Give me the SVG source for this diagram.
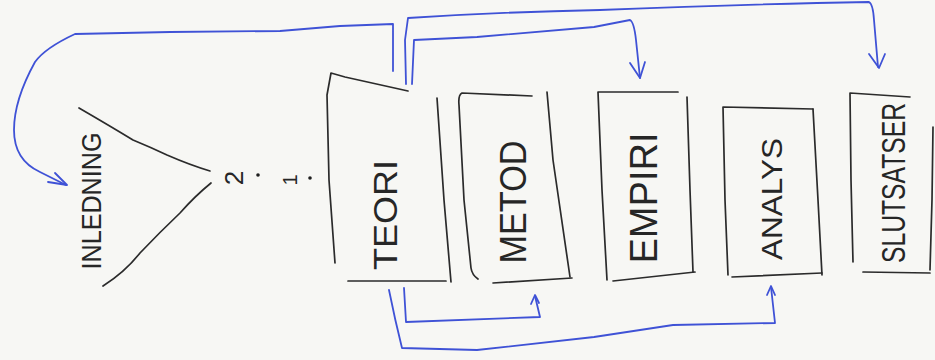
<svg xmlns="http://www.w3.org/2000/svg" width="935" height="360" viewBox="0 0 935 360">
<style>
.ink{fill:none;stroke:#2b2b2b;stroke-width:1.7;stroke-linecap:round;stroke-linejoin:round}
.blue{fill:none;stroke:#3f52d6;stroke-width:1.8;stroke-linecap:round;stroke-linejoin:round}
.lbl{font-family:"Liberation Sans","DejaVu Sans",sans-serif;fill:#262626;text-anchor:middle}
</style>
<rect width="935" height="360" fill="#f7f7f4"/>
<g id="inledning">
<path class="ink" d="M79,108 Q110,126 133,140 Q150,147 167,155 Q190,165 210,171"/>
<path class="ink" d="M211,183 Q195,196 180,213 Q160,232 140,253 Q125,272 103,286"/>
<text class="lbl" transform="translate(91,201) rotate(-90)" x="0" y="10" font-size="28" textLength="137" lengthAdjust="spacingAndGlyphs">INLEDNING</text>
</g>
<g id="numbering">
<text class="lbl" transform="translate(234,178) rotate(-90)" x="0" y="9" font-size="26">2</text>
<circle cx="258" cy="175" r="1.8" fill="#1e1e1e"/>
<text class="lbl" transform="translate(290,180) rotate(-90)" x="0" y="7" font-size="20">1</text>
<circle cx="310" cy="178" r="1.8" fill="#1e1e1e"/>
</g>
<g id="teori">
<path class="ink" d="M408,91 L345,77 L331,73 L327,95 L329,180 L335,263"/>
<path class="ink" d="M437,98 L444,200 L451,282"/>
<path class="ink" d="M348,281 L446,281"/>
<text class="lbl" transform="translate(385,215) rotate(-90)" x="0" y="12" font-size="34" textLength="110" lengthAdjust="spacingAndGlyphs">TEORI</text>
</g>
<g id="metod">
<path class="ink" d="M532,96 L462,93 Q458,95 459,105 L464,200 L471,268 Q472,275 478,279"/>
<path class="ink" d="M547,92 L553,160 L570,277"/>
<path class="ink" d="M493,283 L572,278"/>
<text class="lbl" transform="translate(513,202) rotate(-90)" x="0" y="13" font-size="36" textLength="123" lengthAdjust="spacingAndGlyphs">METOD</text>
</g>
<g id="empiri">
<path class="ink" d="M678,92 L598,92 L602,190 L607,280"/>
<path class="ink" d="M687,97 L690,190 L693,272"/>
<path class="ink" d="M613,281 L695,272"/>
<text class="lbl" transform="translate(644,198) rotate(-90)" x="0" y="13" font-size="38" textLength="131" lengthAdjust="spacingAndGlyphs">EMPIRI</text>
</g>
<g id="analys">
<path class="ink" d="M813,109 L723,107 L725,200 L728,275"/>
<path class="ink" d="M813,109 L818,200 L822,275"/>
<path class="ink" d="M732,277 L822,273"/>
<text class="lbl" transform="translate(771,199) rotate(-90)" x="0" y="11" font-size="30" textLength="122" lengthAdjust="spacingAndGlyphs">ANALYS</text>
</g>
<g id="slutsatser">
<path class="ink" d="M910,97 L850,93 L851,180 L853,262"/>
<path class="ink" d="M933,127 L932,200 L930,270"/>
<path class="ink" d="M863,272 L930,273"/>
<text class="lbl" transform="translate(893,183) rotate(-90)" x="0" y="12" font-size="34" textLength="160" lengthAdjust="spacingAndGlyphs">SLUTSATSER</text>
</g>
<g id="connectors">
<path class="blue" d="M393,71 L393,24 L340,26 L280,31 L170,32 L75,34 Q45,48 35,62 Q14,100 14,130 Q14,160 40,172 L66,185"/>
<path class="blue" d="M48,182 L67,185 L55,173"/>
<path class="blue" d="M406,84 L405,40 L408,18 Q500,12 600,10 Q750,4 869,2 Q873,4 874,20 L878,67"/>
<path class="blue" d="M869,54 L879,68 L885,54"/>
<path class="blue" d="M412,84 L414,40 L477,37 L594,27 L630,20 Q634,22 636,40 L640,78"/>
<path class="blue" d="M630,63 L640,78 L645,62"/>
<path class="blue" d="M404,288 L406,322 L540,317 L535,296"/>
<path class="blue" d="M531,304 L535,295 L539,303"/>
<path class="blue" d="M389,290 Q395,320 402,348 L477,350 L594,337 L673,325 L775,323 L771,287"/>
<path class="blue" d="M767,295 L771,286 L775,295"/>
</g>
</svg>
